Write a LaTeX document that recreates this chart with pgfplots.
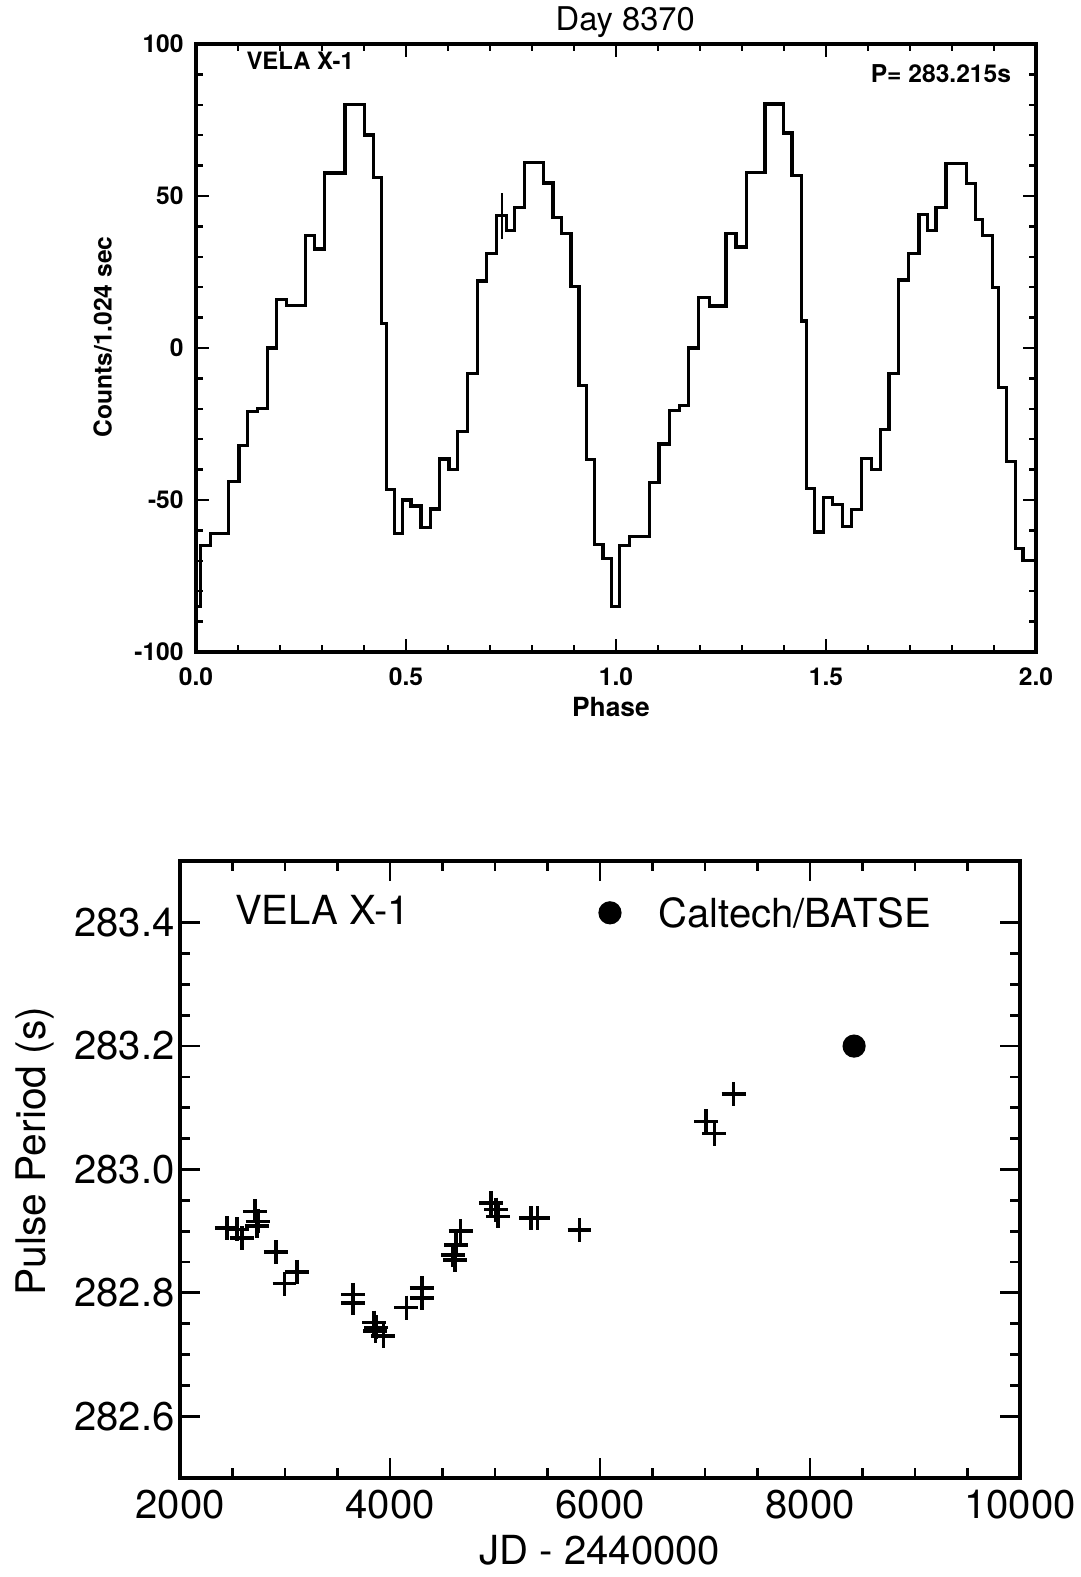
\documentclass[border=0pt]{standalone}
\usepackage{fontspec}
\setmainfont{TeX Gyre Heros}
\usepackage{pgfplots}
\pgfplotsset{compat=1.18}
\begin{document}
\begin{tikzpicture}
\useasboundingbox (0,0) rectangle (10.81,15.77);
% ---------------- top panel ----------------
\begin{axis}[
  at={(1.96cm,15.33cm)}, anchor=north west,
  scale only axis, width=8.4cm, height=6.08cm,
  xmin=0, xmax=2, ymin=-100, ymax=100,
  xtick={0,0.5,1,1.5,2}, xticklabels={0.0,0.5,1.0,1.5,2.0},
  ytick={-100,-50,0,50,100}, yticklabels={-100,-50,0,50,100},
  minor x tick num=4, minor y tick num=4,
  tick align=inside, tick pos=both,
  major tick length=0.13cm, minor tick length=0.07cm,
  every tick/.style={black, line width=0.7pt},
  axis line style={line width=0.9pt},
  tick label style={font=\fontsize{7}{8}\selectfont\bfseries},
  xticklabel style={yshift=-1pt},
  clip=false,
]
\addplot[const plot, line width=0.95pt] coordinates {
(0.000,-85) (0.010,-65) (0.034,-61) (0.078,-44) (0.102,-32) (0.123,-21)
(0.147,-20) (0.171,0) (0.191,16) (0.215,14) (0.261,37) (0.282,32.5)
(0.306,57.5) (0.355,80) (0.401,70) (0.423,56) (0.441,8) (0.453,-46.5)
(0.473,-61) (0.492,-50) (0.512,-52) (0.536,-59) (0.558,-53) (0.580,-36.5)
(0.602,-40) (0.623,-27.5) (0.647,-8.5) (0.670,22) (0.691,31) (0.715,43.5)
(0.739,38.7) (0.758,46.3) (0.782,61) (0.827,54.3) (0.850,43) (0.870,37.6)
(0.893,20.3) (0.912,-12.4) (0.929,-36.6) (0.949,-64.6) (0.969,-69.2)
(0.989,-85) (1.008,-65) (1.032,-62) (1.080,-44.3) (1.102,-31.6) (1.127,-20.5)
(1.151,-19) (1.173,0) (1.196,16.5) (1.223,13.8) (1.262,37.6) (1.286,33.2)
(1.310,57.8) (1.355,80.3) (1.399,70.7) (1.419,56.8) (1.441,8.9) (1.453,-46.2)
(1.473,-60.5) (1.494,-49.2) (1.516,-51.4) (1.539,-58.8) (1.561,-53.2)
(1.584,-36.4) (1.608,-39.9) (1.629,-26.9) (1.650,-8.4) (1.673,22.4)
(1.697,31) (1.721,43.9) (1.742,38.7) (1.762,46.1) (1.786,60.7) (1.834,54.1)
(1.856,42.2) (1.873,36.9) (1.896,19.8) (1.910,-13.1) (1.930,-37.4)
(1.951,-66) (1.969,-70) (2.000,-70)
};
\addplot[line width=0.5pt] coordinates {(0.729,36) (0.729,51)};
\node[font=\fontsize{9.3}{11}\selectfont] at (rel axis cs:0.511,1.036) {Day 8370};
\node[font=\fontsize{6.8}{8}\selectfont\bfseries] at (rel axis cs:0.124,0.972) {VELA X-1};
\node[font=\fontsize{7}{8}\selectfont\bfseries, anchor=east] at (rel axis cs:0.985,0.952) {P= 283.215s};
\node[font=\fontsize{7}{8}\selectfont\bfseries, rotate=90] at (rel axis cs:-0.111,0.518) {Counts/1.024 sec};
\node[font=\fontsize{7.5}{9}\selectfont\bfseries] at (rel axis cs:0.494,-0.09) {Phase};
\end{axis}
% ---------------- bottom panel ----------------
\begin{axis}[
  at={(1.80cm,7.16cm)}, anchor=north west,
  scale only axis, width=8.4cm, height=6.17cm,
  xmin=2000, xmax=10000, ymin=282.5, ymax=283.5,
  scaled x ticks=false, scaled y ticks=false,
  xtick={2000,4000,6000,8000,10000}, xticklabels={2000,4000,6000,8000,10000},
  ytick={282.6,282.8,283.0,283.2,283.4}, yticklabels={282.6,282.8,283.0,283.2,283.4},
  minor x tick num=3, minor y tick num=3,
  tick align=inside, tick pos=both,
  major tick length=0.2cm, minor tick length=0.1cm,
  every tick/.style={black, line width=0.8pt},
  axis line style={line width=0.9pt},
  tick label style={font=\fontsize{11.4}{13}\selectfont},
  yticklabel style={xshift=2pt},
  clip=false,
]
\addplot[only marks, mark=+, mark size=3.4pt, mark options={line width=1pt}] coordinates {
(2447,282.905) (2542,282.903) (2589,282.889) (2716,282.932) (2741,282.916)
(2732,282.908) (2913,282.866) (2995,282.815) (3112,282.834) (3650,282.797)
(3650,282.784) (3850,282.752) (3870,282.744) (3860,282.738) (3936,282.730)
(4155,282.776) (4304,282.808) (4304,282.792) (4602,282.861) (4617,282.853)
(4630,282.878) (4672,282.900) (4963,282.946) (5011,282.935) (5027,282.924)
(5343,282.921) (5406,282.921) (5805,282.902) (7010,283.078) (7089,283.058)
(7273,283.122)
};
\addplot[only marks, mark=*, mark size=3.1pt] coordinates {(8420,283.200)};
\addplot[only marks, mark=*, mark size=3.1pt] coordinates {(6095,283.416)};
\node[font=\fontsize{11.4}{13}\selectfont, anchor=west] at (rel axis cs:0.555,0.916) {Caltech/BATSE};
\node[font=\fontsize{11.4}{13}\selectfont, anchor=west] at (rel axis cs:0.051,0.92) {VELA X-1};
\node[font=\fontsize{11.6}{13}\selectfont, rotate=90] at (rel axis cs:-0.173,0.53) {Pulse Period (s)};
\node[font=\fontsize{11.4}{13}\selectfont] at (rel axis cs:0.5,-0.117) {JD - 2440000};
\end{axis}
\end{tikzpicture}
\end{document}
